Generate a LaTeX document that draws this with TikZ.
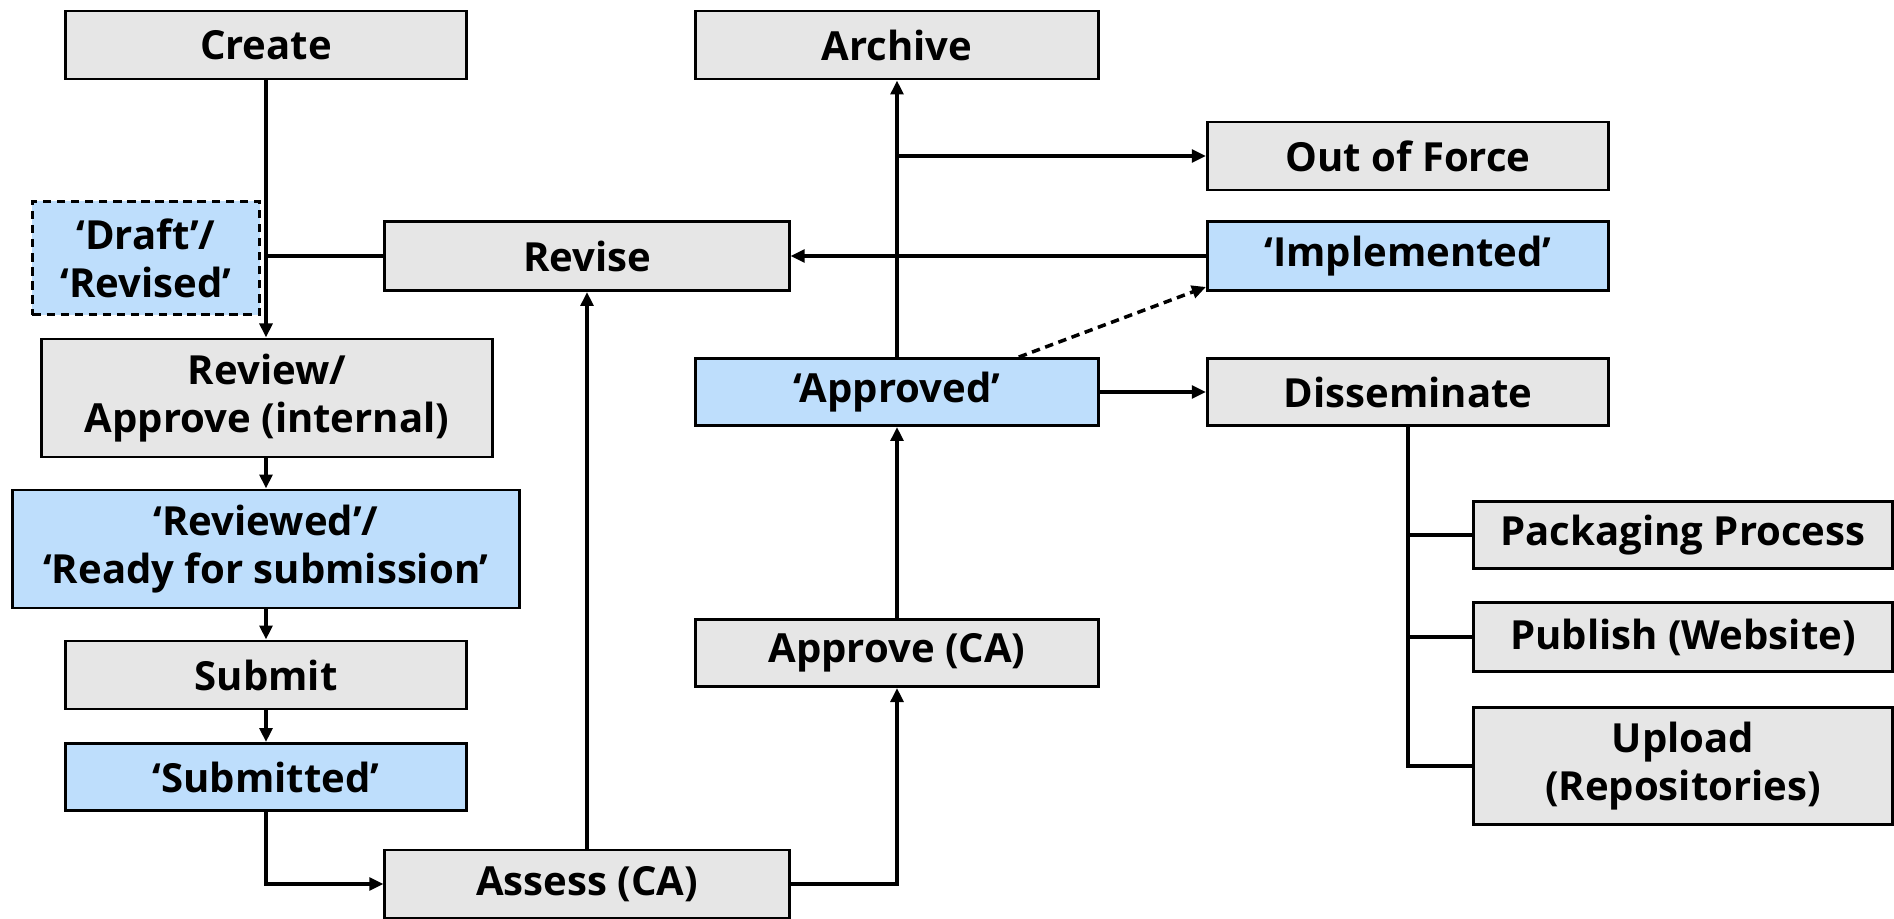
\documentclass[tikz,border=0pt]{standalone}
\usepackage{fontspec}
\setmainfont{Open Sans}
\usetikzlibrary{arrows.meta,calc}
\definecolor{boxgray}{RGB}{230,230,230}
\definecolor{boxblue}{RGB}{190,222,252}
\begin{document}
\begin{tikzpicture}[x=0.01cm,y=-0.01cm,
 box/.style={draw=black, line width=0.8pt, fill=boxgray, inner sep=0pt, align=center, font=\fontsize{11.4}{13.7}\selectfont\bfseries},
 bluebox/.style={box, fill=boxblue},
 conn/.style={line width=1pt, -{Triangle[length=4pt,width=3.6pt]}},
 plain/.style={line width=1pt},
 dsh/.style={dash pattern=on 2.4pt off 1.6pt}]
\useasboundingbox (0,0) rectangle (1894,918);
\node[box, minimum width=4.00cm, minimum height=0.68cm] (create) at (266,45) {Create};
\node[box, minimum width=4.03cm, minimum height=0.68cm] (archive) at (897,45) {Archive};
\node[box, minimum width=4.01cm, minimum height=0.68cm] (outforce) at (1408,156) {Out of Force};
\node[bluebox, dsh, minimum width=2.27cm, minimum height=1.13cm] (draft) at (146,258) {‘Draft’/\\‘Revised’};
\node[box, minimum width=4.04cm, minimum height=0.69cm] (revise) at (587,256) {Revise};
\node[bluebox, minimum width=4.01cm, minimum height=0.69cm] (impl) at (1408,256) {‘Implemented’};
\node[box, minimum width=4.50cm, minimum height=1.18cm] (review) at (267,398) {Review/\\Approve (internal)};
\node[bluebox, minimum width=4.03cm, minimum height=0.67cm] (approved) at (897,392) {‘Approved’};
\node[box, minimum width=4.01cm, minimum height=0.67cm] (dissem) at (1408,392) {Disseminate};
\node[bluebox, minimum width=5.06cm, minimum height=1.18cm] (reviewed) at (266,549) {‘Reviewed’/\\‘Ready for submission’};
\node[box, minimum width=4.18cm, minimum height=0.67cm] (pack) at (1683,535) {Packaging Process};
\node[box, minimum width=4.18cm, minimum height=0.69cm] (publish) at (1683,637) {Publish (Website)};
\node[box, minimum width=4.18cm, minimum height=1.17cm] (upload) at (1683,766) {Upload\\(Repositories)};
\node[box, minimum width=4.03cm, minimum height=0.67cm] (approveca) at (897,653) {Approve (CA)};
\node[box, minimum width=4.00cm, minimum height=0.68cm] (submit) at (266,675) {Submit};
\node[bluebox, minimum width=4.00cm, minimum height=0.67cm] (submitted) at (266,777) {‘Submitted’};
\node[box, minimum width=4.04cm, minimum height=0.68cm] (assess) at (587,884) {Assess (CA)};

\draw[conn] (create.south) -- (create.south |- review.north);
\draw[plain] (revise.west) -- (revise.west -| create.south);
\draw[conn] (create.south |- review.south) -- (create.south |- reviewed.north);
\draw[conn] (reviewed.south) -- (submit.north);
\draw[conn] (submit.south) -- (submitted.north);
\draw[conn] (submitted.south) |- (assess.west);
\draw[conn] (assess.north) -- (revise.south);
\draw[conn] (assess.east) -| (approveca.south);
\draw[conn] (approveca.north) -- (approved.south);
\draw[conn] (approved.north) -- (archive.south);
\coordinate (br) at (approved.north |- outforce.west);
\draw[conn] (br) -- (outforce.west);
\draw[conn] (impl.west) -- (revise.east);
\coordinate (dstart) at ($(approved.north west)!0.8!(approved.north east)$);
\coordinate (dend) at ($(impl.south west)+(0,-5)$);
\draw[conn, dsh] (dstart) -- (dend);
\draw[conn] (approved.east) -- (dissem.west);
\draw[plain] (dissem.south) -- (dissem.south |- upload.west) -- (upload.west);
\draw[plain] (dissem.south |- pack.west) -- (pack.west);
\draw[plain] (dissem.south |- publish.west) -- (publish.west);
\end{tikzpicture}
\end{document}
